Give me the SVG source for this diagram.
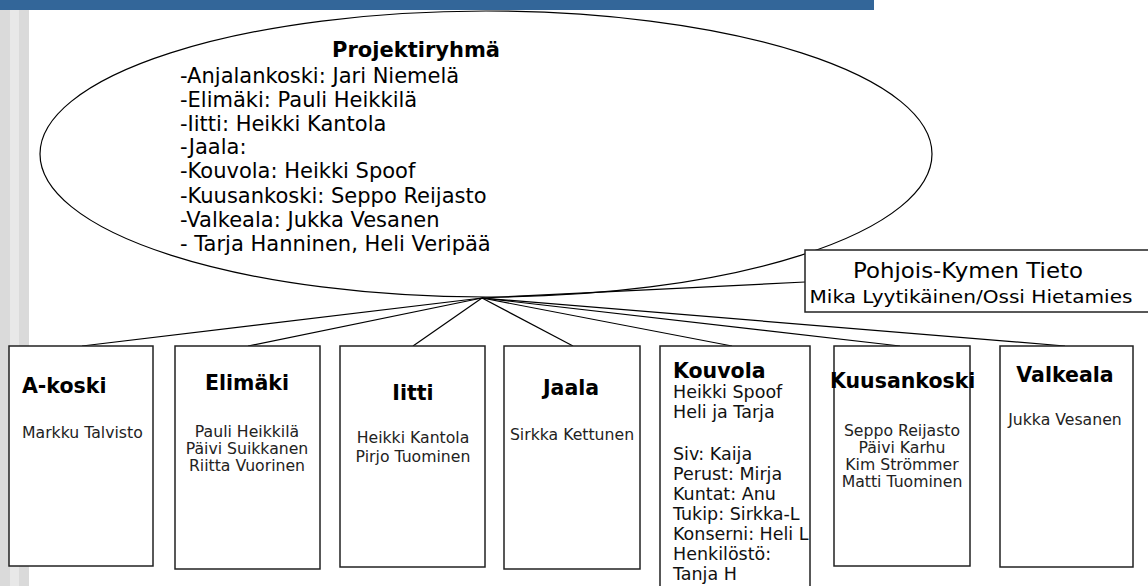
<svg xmlns="http://www.w3.org/2000/svg" width="1148" height="586" viewBox="0 0 1148 586">
<style>
text{font-family:"DejaVu Sans","Verdana",sans-serif;fill:#000}
.b{font-weight:bold}
.t{font-size:21px}
.h{font-size:20.5px;font-weight:bold}
.n{font-size:15.7px;fill:#222}
.k{font-size:17.5px;fill:#111}
.c{text-anchor:middle}
.box{fill:#fff;stroke:#222;stroke-width:1.5}
.con line{stroke:#000;stroke-width:1.2}
</style>
<rect x="0" y="0" width="1148" height="586" fill="#fff"/>
<rect x="0" y="10" width="10" height="576" fill="#dadada"/>
<rect x="10" y="10" width="9" height="576" fill="#e8e8e8"/>
<rect x="19" y="10" width="10" height="576" fill="#dadada"/>
<rect x="0" y="0" width="874" height="10" fill="#336699"/>
<g id="projektiryhma">
<ellipse cx="486" cy="154" rx="446" ry="143" fill="#fff" stroke="#000" stroke-width="1.2"/>
<text class="b c" x="416" y="57" font-size="21">Projektiryhmä</text>
<text class="t" x="180" y="83">-Anjalankoski: Jari Niemelä</text>
<text class="t" x="180" y="107">-Elimäki: Pauli Heikkilä</text>
<text class="t" x="180" y="131">-Iitti: Heikki Kantola</text>
<text class="t" x="180" y="154">-Jaala:</text>
<text class="t" x="180" y="178">-Kouvola: Heikki Spoof</text>
<text class="t" x="180" y="203">-Kuusankoski: Seppo Reijasto</text>
<text class="t" x="180" y="227">-Valkeala: Jukka Vesanen</text>
<text class="t" x="180" y="251">- Tarja Hanninen, Heli Veripää</text>
</g>
<g id="connectors" class="con">
<line x1="482" y1="298" x2="82" y2="346"/>
<line x1="482" y1="298" x2="248" y2="346"/>
<line x1="482" y1="298" x2="413" y2="346"/>
<line x1="482" y1="298" x2="573" y2="346"/>
<line x1="482" y1="298" x2="732" y2="346"/>
<line x1="482" y1="298" x2="900" y2="346"/>
<line x1="482" y1="298" x2="1065" y2="346"/>
<line x1="482" y1="298" x2="805" y2="282"/>
</g>
<g id="pohjois">
<rect class="box" x="805" y="250" width="360" height="62"/>
<text class="c" x="968" y="278" font-size="21" textLength="230" lengthAdjust="spacingAndGlyphs">Pohjois-Kymen Tieto</text>
<text class="c" x="971" y="303" font-size="18.5" textLength="323" lengthAdjust="spacingAndGlyphs">Mika Lyytikäinen/Ossi Hietamies</text>
</g>
<g id="akoski">
<rect class="box" x="9" y="346" width="144" height="220"/>
<text class="h" x="22" y="393">A-koski</text>
<text class="n" x="22" y="438">Markku Talvisto</text>
</g>
<g id="elimaki">
<rect class="box" x="175" y="346" width="145" height="223"/>
<text class="h c" x="247" y="390">Elimäki</text>
<text class="n c" x="247" y="437">Pauli Heikkilä</text>
<text class="n c" x="247" y="454">Päivi Suikkanen</text>
<text class="n c" x="247" y="471">Riitta Vuorinen</text>
</g>
<g id="iitti">
<rect class="box" x="340" y="346" width="145" height="221"/>
<text class="h c" x="413" y="400">Iitti</text>
<text class="n c" x="413" y="443">Heikki Kantola</text>
<text class="n c" x="413" y="462">Pirjo Tuominen</text>
</g>
<g id="jaala">
<rect class="box" x="504" y="346" width="136" height="223"/>
<text class="h c" x="571" y="395">Jaala</text>
<text class="n c" x="572" y="440">Sirkka Kettunen</text>
</g>
<g id="kouvola">
<rect class="box" x="660" y="346" width="150" height="260"/>
<text class="h" x="673" y="378">Kouvola</text>
<text class="k" x="673" y="398">Heikki Spoof</text>
<text class="k" x="673" y="418">Heli ja Tarja</text>
<text class="k" x="673" y="460">Siv: Kaija</text>
<text class="k" x="673" y="480">Perust: Mirja</text>
<text class="k" x="673" y="500">Kuntat: Anu</text>
<text class="k" x="673" y="520">Tukip: Sirkka-L</text>
<text class="k" x="673" y="540">Konserni: Heli L</text>
<text class="k" x="673" y="560">Henkilöstö:</text>
<text class="k" x="673" y="580">Tanja H</text>
</g>
<g id="kuusankoski">
<rect class="box" x="834" y="346" width="136" height="220"/>
<text class="h" x="830" y="388">Kuusankoski</text>
<text class="n c" x="902" y="436">Seppo Reijasto</text>
<text class="n c" x="902" y="453">Päivi Karhu</text>
<text class="n c" x="902" y="470">Kim Strömmer</text>
<text class="n c" x="902" y="487">Matti Tuominen</text>
</g>
<g id="valkeala">
<rect class="box" x="1000" y="346" width="133" height="221"/>
<text class="h c" x="1065" y="382">Valkeala</text>
<text class="n c" x="1065" y="425">Jukka Vesanen</text>
</g>
</svg>
